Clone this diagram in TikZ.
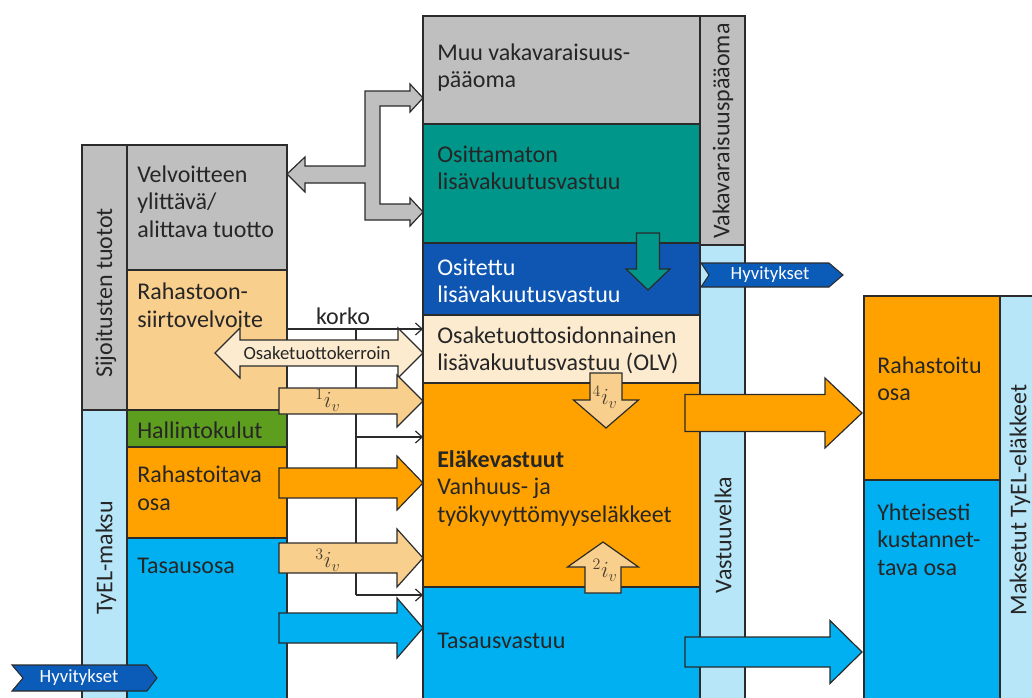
\documentclass[tikz,border=0pt]{standalone}
\usepackage{fontspec}
\setmainfont{Carlito}
\usetikzlibrary{fit,arrows.meta}
\definecolor{gry}{HTML}{BFBFBF}
\definecolor{lor}{HTML}{F9CF8D}
\definecolor{grn}{HTML}{5E9E1E}
\definecolor{org}{HTML}{FFA200}
\definecolor{cyn}{HTML}{00B0F0}
\definecolor{lblue}{HTML}{B7E6F8}
\definecolor{tealc}{HTML}{00968A}
\definecolor{dblue}{HTML}{0F56B3}
\definecolor{beige}{HTML}{FCEBCF}
\definecolor{tagb}{HTML}{0B5BB8}
\definecolor{lc}{HTML}{2B2B2B}
\definecolor{tc}{HTML}{262626}
\definecolor{mc}{HTML}{4A4030}
\newcommand{\harrow}[7]{\draw[#1] (#2,#5-#6) -- (#3,#5-#6) -- (#3,#5-#7) -- (#4,#5) -- (#3,#5+#7) -- (#3,#5+#6) -- (#2,#5+#6) -- cycle;}
\newcommand{\varrow}[7]{\draw[#1] (#2-#6,#3) -- (#2-#6,#4) -- (#2-#7,#4) -- (#2,#5) -- (#2+#7,#4) -- (#2+#6,#4) -- (#2+#6,#3) -- cycle;}
\begin{document}
\begin{tikzpicture}[x=0.75pt,y=-0.75pt,
 blk/.style={draw=lc, line width=0.9pt, inner sep=0pt, outer sep=0pt},
 txt/.style={anchor=base west, align=left, inner sep=0pt, text=tc, font=\fontsize{18}{20.6}\selectfont},
 vtxt/.style={rotate=90, inner sep=0pt, text=tc, font=\fontsize{18}{20.6}\selectfont},
 ar/.style={draw=lc, line width=0.9pt, line join=miter},
 conn/.style={draw=lc, line width=0.9pt},
 thinarr/.style={conn, -{Straight Barb[length=5pt,width=9pt]}},
 tag/.style={draw=lc, fill=tagb, line width=0.8pt},
 tagtxt/.style={inner sep=0pt, text=white, font=\fontsize{14}{16}\selectfont},
 mlab/.style={inner sep=0pt, text=mc, font=\fontsize{18}{20}\selectfont}]
\useasboundingbox (0,0) rectangle (1032,697);
% left column
\node[blk, fill=gry, fit={(82,145)(127,410)}] (sij) {};
\node[blk, fill=lblue, fit={(82,410)(127,712)}] (tyel) {};
\node[blk, fill=gry, fit={(127,145)(287,270)}] (velv) {};
\node[blk, fill=lor, fit={(127,270)(287,410)}] (rah) {};
\node[blk, fill=grn, fit={(127,410)(287,447)}] (hal) {};
\node[blk, fill=org, fit={(127,447)(287,538)}] (rosa) {};
\node[blk, fill=cyn, fit={(127,538)(287,712)}] (tas) {};
% middle column
\node[blk, fill=gry, fit={(423,16)(700,124)}] (muu) {};
\node[blk, fill=tealc, fit={(423,124)(700,243)}] (osm) {};
\node[blk, fill=dblue, fit={(423,243)(700,315)}] (osi) {};
\node[blk, fill=beige, fit={(423,315)(700,383)}] (olv) {};
\node[blk, fill=org, fit={(423,383)(700,587)}] (elv) {};
\node[blk, fill=cyn, fit={(423,587)(700,712)}] (tasv) {};
\node[blk, fill=gry, fit={(700,16)(745,245)}] (vak) {};
\node[blk, fill=lblue, fit={(700,245)(745,712)}] (vas) {};
% right column
\node[blk, fill=org, fit={(864,296)(1000,480)}] (rto) {};
\node[blk, fill=cyn, fit={(864,480)(1000,712)}] (yht) {};
\node[blk, fill=lblue, fit={(1000,296)(1048,712)}] (mak) {};
% texts (anchor = baseline of the last line)
\node[txt] (t1) at (137,237) {Velvoitteen\\ylittävä/\\alittava tuotto};
\node[txt] (t2) at (137,327) {Rahastoon-\\siirtovelvoite};
\node[txt] (t3) at (137,438) {Hallintokulut};
\node[txt] (t4) at (137,510) {Rahastoitava\\osa};
\node[txt] (t5) at (137,573) {Tasausosa};
\node[vtxt] (t6) at (106,293) {Sijoitusten tuotot};
\node[vtxt] (t7) at (106,558) {TyEL-maksu};
\node[txt] (t8) at (437,87.5) {Muu vakavaraisuus-\\pääoma};
\node[txt] (t9) at (437,189.5) {Osittamaton\\lisävakuutusvastuu};
\node[txt, text=white] (t10) at (437,302.5) {Ositettu\\lisävakuutusvastuu};
\node[txt] (t11) at (437,370.5) {Osaketuottosidonnainen\\lisävakuutusvastuu (OLV)};
\node[txt] (t12) at (437,522) {\textbf{Eläkevastuut}\\Vanhuus- ja\\työkyvyttömyyseläkkeet};
\node[txt] (t13) at (437,648) {Tasausvastuu};
\node[vtxt] (t14) at (723,131) {Vakavaraisuuspääoma};
\node[vtxt] (t15) at (723,535) {Vastuuvelka};
\node[txt] (t16) at (877,400.5) {Rahastoitu\\osa};
\node[txt] (t17) at (877,575) {Yhteisesti\\kustannet-\\tava osa};
\node[vtxt] (t18) at (1020,500) {Maksetut TyEL-eläkkeet};
% korko connectors
\coordinate (k0) at (rah.east |- 0,329);
\coordinate (kv) at (356,329);
\coordinate (kb1) at (356,437);
\coordinate (kb2) at (356,595);
\draw[thinarr] (k0) -- (k0 -| olv.west);
\draw[conn] (kv) -- (kb2);
\draw[thinarr] (kb1) -- (kb1 -| elv.west);
\draw[thinarr] (kb2) -- (kb2 -| tasv.west);
\node[anchor=base, inner sep=0pt, text=tc, font=\fontsize{18}{20}\selectfont] (korko) at (343,324) {korko};
% gray branched arrow
\draw[ar, fill=gry] (287,174) -- (305,157) -- (305,166) -- (365,166) -- (365,91) -- (410,91) -- (410,84) -- (423,98) -- (410,112) -- (410,106) -- (380,106) -- (380,204) -- (410,204) -- (410,198) -- (423,212) -- (410,226) -- (410,220) -- (365,220) -- (365,183) -- (305,183) -- (305,192) -- cycle;
% osaketuottokerroin double arrow
\draw[ar, fill=beige] (215,353) -- (240,328) -- (240,340) -- (398,340) -- (398,328) -- (423,353) -- (398,378) -- (398,366) -- (240,366) -- (240,378) -- cycle;
\node[inner sep=0pt, text=tc, font=\fontsize{14}{16}\selectfont] (okr) at (317,353) {Osaketuottokerroin};
% left block arrows
\harrow{ar, fill=lor}{279}{397}{423}{401}{13}{26}
\harrow{ar, fill=org}{279}{397}{423}{483}{15}{27}
\harrow{ar, fill=lor}{279}{397}{423}{558}{15}{29}
\harrow{ar, fill=cyn}{279}{397}{423}{628}{15}{30}
\node[mlab] (i1) at (328,400) {$^{1}i_{v}$};
\node[mlab] (i3) at (328,560) {$^{3}i_{v}$};
% vertical arrows
\varrow{ar, fill=tealc}{648}{233}{269}{290}{11.5}{22}
\varrow{ar, fill=lor}{606}{373}{400}{428}{16}{32.5}
\varrow{ar, fill=lor}{603}{593}{567}{542}{18}{35.5}
\node[mlab] (i4) at (605,397) {$^{4}i_{v}$};
\node[mlab] (i2) at (605,570) {$^{2}i_{v}$};
% right block arrows
\harrow{ar, fill=org}{685}{825}{862}{413}{18.5}{35}
\harrow{ar, fill=cyn}{685}{830}{862}{652}{15}{31.5}
% Hyvitykset tags
\draw[tag] (12,665) -- (147,665) -- (157,678) -- (147,691) -- (12,691) -- (23,678) -- cycle;
\node[tagtxt] (h1) at (79,678) {Hyvitykset};
\draw[tag] (701,263) -- (829,263) -- (843,275) -- (829,287) -- (701,287) -- (709,275) -- cycle;
\node[tagtxt] (h2) at (770,275) {Hyvitykset};
\end{tikzpicture}
\end{document}
